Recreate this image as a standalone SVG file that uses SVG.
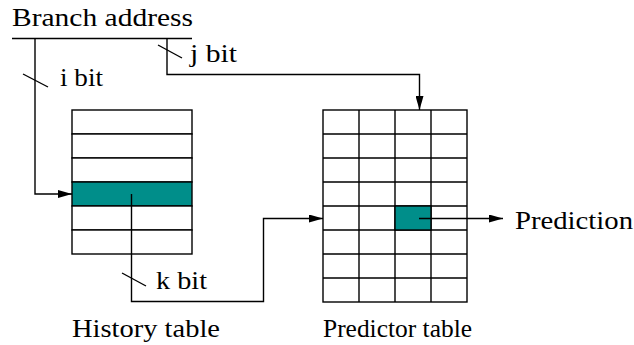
<svg xmlns="http://www.w3.org/2000/svg" width="634" height="345" viewBox="0 0 634 345">
<defs>
<style>
.ln{fill:none;stroke:#000;stroke-width:1.4}
.cell{fill:#fff;stroke:#000;stroke-width:1.4}
.hot{fill:#008E8A;stroke:#000;stroke-width:1.4}
.t{font-family:'Liberation Serif','Times New Roman',serif;font-size:25px;fill:#000}
</style>
<marker id="ah" viewBox="0 0 14 8" refX="14" refY="4" markerWidth="14" markerHeight="8" markerUnits="userSpaceOnUse" orient="auto">
<path d="M0,0 L14,4 L0,8 Z" fill="#000"/>
</marker>
</defs>
<rect width="634" height="345" fill="#fff"/>

<g id="branch-address">
<text class="t" x="12" y="26" textLength="181" lengthAdjust="spacingAndGlyphs">Branch address</text>
<line class="ln" x1="12" y1="38.5" x2="192" y2="38.5"/>
</g>

<g id="history-table">
<rect class="cell" x="72" y="110" width="120" height="24"/>
<rect class="cell" x="72" y="134" width="120" height="24"/>
<rect class="cell" x="72" y="158" width="120" height="24"/>
<rect class="hot" x="72" y="182" width="120" height="24"/>
<rect class="cell" x="72" y="206" width="120" height="24"/>
<rect class="cell" x="72" y="230" width="120" height="24"/>
<text class="t" x="72" y="337" textLength="148" lengthAdjust="spacingAndGlyphs">History table</text>
</g>

<g id="predictor-table">
<rect class="cell" x="323" y="110" width="144" height="192"/>
<path class="ln" d="M359,110V302M395,110V302M431,110V302M323,134H467M323,158H467M323,182H467M323,206H467M323,230H467M323,254H467M323,278H467"/>
<rect class="hot" x="395" y="206" width="36" height="24"/>
<text class="t" x="323" y="337" textLength="149" lengthAdjust="spacingAndGlyphs">Predictor table</text>
</g>

<g id="prediction">
<text class="t" x="515" y="229" textLength="118" lengthAdjust="spacingAndGlyphs">Prediction</text>
</g>

<g id="connectors">
<path class="ln" d="M35,38.5V194H72" marker-end="url(#ah)"/>
<line class="ln" x1="23" y1="74" x2="48" y2="87"/>
<text class="t" x="60" y="86" textLength="43" lengthAdjust="spacingAndGlyphs">i bit</text>

<path class="ln" d="M167,38.5V74.5H419.5V110" marker-end="url(#ah)"/>
<line class="ln" x1="158" y1="45" x2="182" y2="58"/>
<text class="t" x="190" y="62" textLength="47" lengthAdjust="spacingAndGlyphs">j bit</text>

<path class="ln" d="M131.5,194V301.5H263.5V218.5H323" marker-end="url(#ah)"/>
<line class="ln" x1="122" y1="273" x2="146" y2="286"/>
<text class="t" x="156" y="289" textLength="51" lengthAdjust="spacingAndGlyphs">k bit</text>

<path class="ln" d="M419,218.5H503" marker-end="url(#ah)"/>
</g>
</svg>
